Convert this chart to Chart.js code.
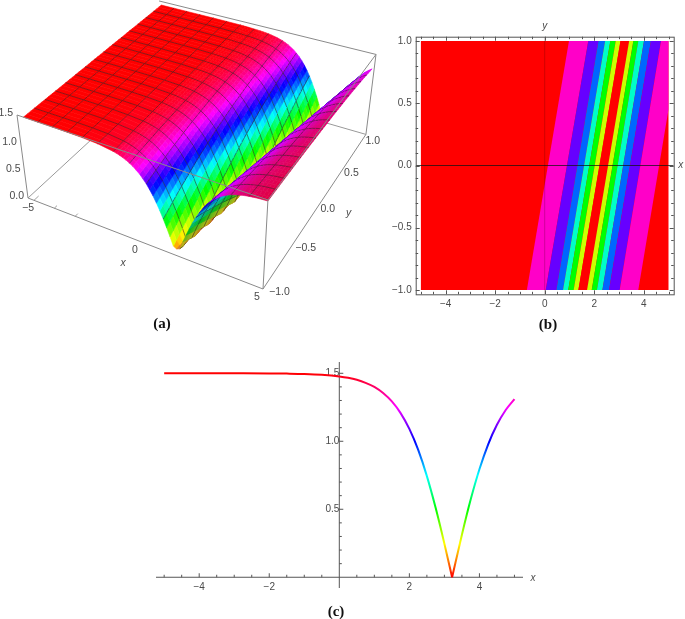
<!DOCTYPE html>
<html><head><meta charset="utf-8">
<style>
html,body{margin:0;padding:0;background:#fff;width:685px;height:619px;overflow:hidden}
canvas{position:absolute;filter:blur(0.45px)}
.cap{position:absolute;font:bold 15px "Liberation Serif",serif;color:#111;transform:translate(-50%,-50%);filter:blur(0.3px)}
</style>
<script src="https://cdn.jsdelivr.net/npm/chart.js@4"></script>
</head><body>
<canvas id="a" width="400" height="312" style="left:0;top:0"></canvas>
<canvas id="b" width="300" height="300" style="left:385px;top:15px"></canvas>
<canvas id="c" width="400" height="248" style="left:140px;top:351px"></canvas>
<div class="cap" style="left:162px;top:323px">(a)</div>
<div class="cap" style="left:548px;top:324px">(b)</div>
<div class="cap" style="left:336px;top:611px">(c)</div>
<script>
// ---- values ----
const leftX=[-5,-4,-3,-2,-1.5,-1,-0.5,0,0.25,0.5,0.75,1,1.25,1.5,1.75,2,2.25,2.5,2.75,3,3.22];
const leftU=[1.5,1.5,1.4997,1.499,1.4976,1.495,1.489,1.477,1.467,1.452,1.43,1.4,1.355,1.293,1.207,1.091,0.938,0.744,0.511,0.247,0];
const rightX=[3.22,3.5,3.75,4,4.25,4.5,4.75,5];
const rightU=[0,0.313,0.571,0.794,0.978,1.121,1.23,1.31];
const bandBottom=[-0.72,0.04,0.47,0.74,0.95,1.17,1.36,1.71,1.90,2.11,2.33,2.60,3.03,3.78];
const bandTop=[0.98,1.76,2.17,2.44,2.65,2.87,3.06,3.41,3.58,3.78,4.01,4.29,4.70,5.48];
const bandColors=['#ff00c8','#6600ff','#0066ff','#00ffc8','#00ff00','#ccff00','#ff0000','#ccff00','#00ff00','#00ffc8','#0066ff','#6600ff','#ff00c8'];
const xTicksB=[-4,-2,0,2,4];
const yTicksB=[-1,-0.5,0,0.5,1];
const xTicksC=[-4,-2,2,4];
const yTicksC=[0.5,1,1.5];
const xTicksA=[-5,0,5];
const yTicksA=[-1,-0.5,0,0.5,1];
const zTicksA=[0,0.5,1,1.5];
const MINUS='\u2212';
const TXT='#4a4a4a', FONT='"Liberation Sans",Arial,sans-serif';

const fmt1=v=>(v<0?MINUS:'')+Math.abs(v).toFixed(1);
const fmt0=v=>(v<0?MINUS:'')+Math.abs(v);
const range=(a,b,s)=>{const r=[];for(let v=a;v<=b+1e-9;v+=s)r.push(+v.toFixed(4));return r;};
const common={responsive:false,animation:false,events:[],devicePixelRatio:1,
  plugins:{legend:{display:false},tooltip:{enabled:false},title:{display:false}},
  elements:{point:{radius:0}}};

// ---- panel (c) ----
function hueGradient(ctx){
  const ch=ctx.chart, s=ch.scales.y; if(!s) return '#f00';
  const p0=s.getPixelForValue(0),p1=s.getPixelForValue(1.5);
  if(!isFinite(p0)||!isFinite(p1)) return '#f00';
  const g=ch.ctx.createLinearGradient(0,p0,0,p1);
  for(let i=0;i<=12;i++) g.addColorStop(i/12,'hsl('+(i*30)+',100%,50%)');
  return g;
}
const toXY=(X,Y)=>X.map((x,i)=>({x,y:Y[i]}));
new Chart(document.getElementById('c'),{type:'line',
 data:{datasets:[leftX,rightX].map((X,k)=>({data:toXY(X,k?rightU:leftU),borderColor:hueGradient,borderWidth:2,
   cubicInterpolationMode:'monotone',pointRadius:0,fill:false}))},
 options:{...common,layout:{autoPadding:false,padding:{left:16,right:17,top:3,bottom:3}},
  scales:{
   x:{type:'linear',position:{y:0},min:-5.233,max:5.244,grid:{display:false,drawTicks:false},border:{display:false},
      afterBuildTicks:s=>{s.ticks=xTicksC.map(value=>({value}))},
      ticks:{padding:4,maxRotation:0,autoSkip:false,color:TXT,font:{family:FONT,size:10},callback:fmt0}},
   y:{type:'linear',position:{x:0},min:-0.079,max:1.583,grid:{display:false,drawTicks:false},border:{display:false},
      afterBuildTicks:s=>{s.ticks=yTicksC.map(value=>({value}))},
      ticks:{padding:5,autoSkip:false,color:TXT,font:{family:FONT,size:10},callback:fmt1}}}},
 plugins:[{id:'axesC',beforeDatasetsDraw(ch){
   const c=ch.ctx,X=ch.scales.x,Y=ch.scales.y,x0=X.getPixelForValue(0),y0=Y.getPixelForValue(0);
   c.save();c.strokeStyle='#555';c.lineWidth=1;c.beginPath();
   c.moveTo(X.left,y0);c.lineTo(X.right,y0);c.moveTo(x0,Y.top);c.lineTo(x0,Y.bottom);
   range(-5,5,0.5).forEach(v=>{if(v){const p=X.getPixelForValue(v),l=v%2===0?4:2.5;c.moveTo(p,y0);c.lineTo(p,y0-l);}});
   range(0.1,1.5,0.1).forEach(v=>{const p=Y.getPixelForValue(v),l=Math.abs(v*2-Math.round(v*2))<1e-6?4:2.5;c.moveTo(x0,p);c.lineTo(x0+l,p);});
   c.stroke();
   c.fillStyle=TXT;c.font='italic 10px '+FONT;c.textAlign='center';c.textBaseline='middle';
   c.fillText('x',X.right+10,y0+1);c.restore();
 }}]
});

// ---- panel (b) ----
const rightEdgeY=0.45;
const dsB=[{data:[{x:-5,y:-1},{x:5,y:-1},{x:5,y:1},{x:-5,y:1},{x:-5,y:-1}],backgroundColor:'#ff0000',borderWidth:0,fill:'shape',showLine:true,pointRadius:0}];
bandColors.forEach((col,i)=>{
  const pts=[{x:bandBottom[i],y:-1},{x:Math.min(bandTop[i],5),y:1}];
  if(bandTop[i+1]>5){pts.push({x:5,y:1},{x:5,y:rightEdgeY});}else pts.push({x:bandTop[i+1],y:1});
  pts.push({x:bandBottom[i+1],y:-1},{x:bandBottom[i],y:-1});
  dsB.push({data:pts,backgroundColor:col,borderWidth:0,fill:'shape',showLine:true,pointRadius:0});
});
dsB.push({data:[{x:-5.21,y:0},{x:5.21,y:0}],borderColor:'rgba(20,20,20,.75)',borderWidth:1,pointRadius:0,fill:false});
dsB.push({data:[{x:0,y:-1.035},{x:0,y:1.035}],borderColor:'rgba(40,0,0,.22)',borderWidth:1,pointRadius:0,fill:false});
new Chart(document.getElementById('b'),{type:'line',
 data:{datasets:dsB.reverse()},
 options:{...common,layout:{autoPadding:false,padding:{left:0,right:11.3,top:21.7,bottom:0}},
  scales:{
   x:{type:'linear',position:'bottom',min:-5.21,max:5.21,grid:{display:false,drawTicks:false},border:{display:false},
      afterFit:s=>{s.height=20.7},afterBuildTicks:s=>{s.ticks=xTicksB.map(value=>({value}))},
      ticks:{padding:4,maxRotation:0,autoSkip:false,color:TXT,font:{family:FONT,size:10},callback:fmt0}},
   y:{type:'linear',position:'left',min:-1.035,max:1.035,grid:{display:false,drawTicks:false},border:{display:false},
      afterFit:s=>{s.width=30.7},afterBuildTicks:s=>{s.ticks=yTicksB.map(value=>({value}))},
      ticks:{padding:4,autoSkip:false,color:TXT,font:{family:FONT,size:10},callback:fmt1}}}},
 plugins:[{id:'frameB',afterDraw(ch){
   const c=ch.ctx,a=ch.chartArea,X=ch.scales.x,Y=ch.scales.y;
   c.save();c.strokeStyle='#555';c.lineWidth=1;c.strokeRect(a.left+.5,a.top+.5,a.width,a.height);c.beginPath();
   range(-5,5,0.5).forEach(v=>{const p=Math.round(X.getPixelForValue(v))+.5,l=v%2===0?4:2.5;c.moveTo(p,a.top);c.lineTo(p,a.top+l);c.moveTo(p,a.bottom);c.lineTo(p,a.bottom-l);});
   range(-1,1,0.1).forEach(v=>{const p=Math.round(Y.getPixelForValue(v))+.5,l=Math.abs(v*2-Math.round(v*2))<1e-6?4:2.5;c.moveTo(a.left,p);c.lineTo(a.left+l,p);c.moveTo(a.right,p);c.lineTo(a.right-l,p);});
   c.stroke();
   c.fillStyle=TXT;c.font='italic 10px '+FONT;c.textAlign='center';c.textBaseline='middle';
   c.fillText('y',X.getPixelForValue(0),a.top-10);c.fillText('x',a.right+7,Y.getPixelForValue(0));c.restore();
 }}]
});

// ---- panel (a): perspective box + surface built from the read profile ----
const A0=[28,198],A1=[263,289],A2=[161,75.3],A3=[17,115];
const pa=-0.126,pb=0.21,pc=-0.061,xLo=-5.3,yHi=1.06,surfaceFloor=0.12;
const va=[(1+pa)*A1[0]-A0[0],(1+pa)*A1[1]-A0[1]],vb=[(1+pb)*A2[0]-A0[0],(1+pb)*A2[1]-A0[1]],vc=[(1+pc)*A3[0]-A0[0],(1+pc)*A3[1]-A0[1]];
function proj(x,y,z){const u=(x-xLo)/(5-xLo),v=(y+1)/(yHi+1),w=z/1.5,d=1+pa*u+pb*v+pc*w;
  return {x:(A0[0]+va[0]*u+vb[0]*v+vc[0]*w)/d,y:(A0[1]+va[1]*u+vb[1]*v+vc[1]*w)/d,d};}
const dipLow=(bandBottom[6]+bandBottom[7])/2,dipHigh=(bandTop[6]+bandTop[7])/2;
const dipAt=y=>dipLow+(dipHigh-dipLow)*(y+1)/2;
function lookup(x){
  if(x<=leftX[0])return leftU[0];
  for(let i=1;i<leftX.length;i++) if(x<=leftX[i]){const t=(x-leftX[i-1])/(leftX[i]-leftX[i-1]);return leftU[i-1]+t*(leftU[i]-leftU[i-1]);}
  return 0;
}
const rawHeight=(x,y)=>lookup(leftX[leftX.length-1]-Math.abs(x-dipAt(y)));
const height=(x,y)=>Math.max(surfaceFloor,rawHeight(x,y));
function colourHeight(x,y){
  const sx=0.625,sy=0.125;
  const fx=(x+5)/sx,fy=(y+1)/sy,ix=Math.floor(fx),iy=Math.floor(fy),tx=fx-ix,ty=fy-iy;
  const n=(a,b)=>rawHeight(-5+a*sx,-1+b*sy);
  const coarse=(1-ty)*((1-tx)*n(ix,iy)+tx*n(ix+1,iy))+ty*((1-tx)*n(ix,iy+1)+tx*n(ix+1,iy+1));
  return 0.3*coarse+0.7*rawHeight(x,y);
}
function hueRGB(u){
  const h=Math.min(1,Math.max(0,u/1.5))*6,f=h-Math.floor(h),q=Math.floor(h)%6;
  const t=[[1,f,0],[1-f,1,0],[0,1,f],[0,1-f,1],[f,0,1],[1,0,1-f]][q];
  return t.map(v=>v*255);
}
function shade(q){
  const [r,g,b]=hueRGB(q.cu);
  if(!q.right)return `rgb(${r|0},${g|0},${b|0})`;
  const k=q.back?0.72:0.88,add=q.back?25:55*Math.min(1,q.cu>1.2?1:0.6);
  return `rgb(${(r*k)|0},${(g*k)|0},${Math.min(255,b*k+add)|0})`;
}
const meshCells=15,ySub=3;
const xs=[],xMesh=new Set();
for(let i=0;i<meshCells;i++){const x0=-5+i*10/meshCells,sub=x0<-1?1:5;xMesh.add(xs.length);for(let k=0;k<sub;k++)xs.push(x0+k*10/meshCells/sub);}
xs.push(5);
const ys=[];for(let j=0;j<=meshCells*ySub;j++)ys.push(-1+j*2/(meshCells*ySub));
const cells=[],items=[];
for(let i=0;i<xs.length-1;i++){cells.push([]);for(let j=0;j<ys.length-1;j++){
  const c=[[xs[i],ys[j]],[xs[i+1],ys[j]],[xs[i+1],ys[j+1]],[xs[i],ys[j+1]]].map(q=>{const z=height(q[0],q[1]);return {...proj(q[0],q[1],z),z};});
  let area=0;for(let k=0;k<4;k++){const n=c[(k+1)%4];area+=c[k].x*n.y-n.x*c[k].y;}
  const mx=(xs[i]+xs[i+1])/2,my=(ys[j]+ys[j+1])/2;
  const q={c,cu:colourHeight(mx,my),back:area>0,right:mx>dipAt(my),d:(c[0].d+c[1].d+c[2].d+c[3].d)/4};
  cells[i].push(q);items.push({key:q.d,q});
}}
for(let i=0;i<xs.length-1;i++)for(let j=0;j<ys.length-1;j++){
  const q=cells[i][j];
  if(xMesh.has(i)&&i>0)items.push({key:Math.min(q.d,cells[i-1][j].d)-1e-7,e:[q.c[0],q.c[3]]});
  if(j%ySub===0&&j>0)items.push({key:Math.min(q.d,cells[i][j-1].d)-1e-7,e:[q.c[0],q.c[1]]});
}
items.sort((p,r)=>r.key-p.key);
const dsA=[];
const pt=p=>({x:p.x,y:p.y});
const seg=(pairs,col,w)=>{const data=[];pairs.forEach(([s,e],i)=>{if(i)data.push({x:NaN,y:NaN});data.push(pt(s),pt(e));});
  return {data,borderColor:col,borderWidth:w,pointRadius:0,fill:false,spanGaps:false};};
const H=1.5;
const bk=[proj(xLo,-1,0),proj(5,-1,0),proj(5,yHi,0),proj(xLo,yHi,0),proj(xLo,-1,H),proj(5,-1,H),proj(5,yHi,H),proj(xLo,yHi,H)];
dsA.push(seg([[bk[0],bk[3]],[bk[3],bk[2]],[bk[3],bk[7]]],'#999',1));
items.forEach(it=>{
  if(it.q){const col=shade(it.q);
    dsA.push({data:[...it.q.c,it.q.c[0]].map(pt),backgroundColor:col,borderColor:col,borderWidth:0.6,fill:'shape',pointRadius:0});
  }else dsA.push(seg([it.e],'rgba(40,30,30,.68)',0.8));
});
const tk=[];
range(-5,5,1).forEach(v=>tk.push([proj(v,-1,0),proj(v,v%5===0?-0.94:-0.965,0)]));
range(-1,1,0.1).forEach(v=>tk.push([proj(5,v,0),proj(Math.abs(v*2-Math.round(v*2))<1e-6?4.75:4.87,v,0)]));
range(0,1.5,0.1).forEach(v=>tk.push([proj(xLo,-1,v),proj(xLo+(Math.abs(v*2-Math.round(v*2))<1e-6?0.22:0.11),-1,v)]));
dsA.push(seg(tk,'#888',0.8));
dsA.push(seg([[bk[0],bk[1]],[bk[1],bk[2]],[bk[0],bk[4]],[bk[1],bk[5]],[bk[2],bk[6]],[bk[4],bk[5]],[bk[5],bk[6]],[bk[6],bk[7]],[bk[7],bk[4]]],'#8a8a8a',1));
new Chart(document.getElementById('a'),{type:'line',
 data:{datasets:dsA.reverse()},
 options:{...common,parsing:false,normalized:true,layout:{autoPadding:false,padding:0},
  scales:{x:{type:'linear',display:false,min:0,max:400},y:{type:'linear',display:false,min:0,max:312,reverse:true}}},
 plugins:[{id:'labelsA',afterDraw(ch){
   const c=ch.ctx,X=ch.scales.x,Y=ch.scales.y;
   c.save();c.fillStyle=TXT;c.font='10.5px '+FONT;c.textBaseline='middle';
   const put=(p,dx,dy,t)=>c.fillText(t,X.getPixelForValue(p.x+dx),Y.getPixelForValue(p.y+dy));
   c.textAlign='right';zTicksA.forEach(v=>put(proj(xLo,-1,v),-4,-2,fmt1(v)));
   c.textAlign='center';xTicksA.forEach(v=>put(proj(v,-1,0),-6,8,fmt0(v)));
   c.textAlign='left';yTicksA.forEach(v=>put(proj(5,v,0),v<-0.6?6:(v<-0.1?3:2),3,fmt1(v)));
   c.textAlign='center';c.font='italic 10.5px '+FONT;
   put(proj(0,-1,0),-18,21,'x');put(proj(5,0,0),30,7,'y');c.restore();
 }}]
});
</script>
</body></html>
